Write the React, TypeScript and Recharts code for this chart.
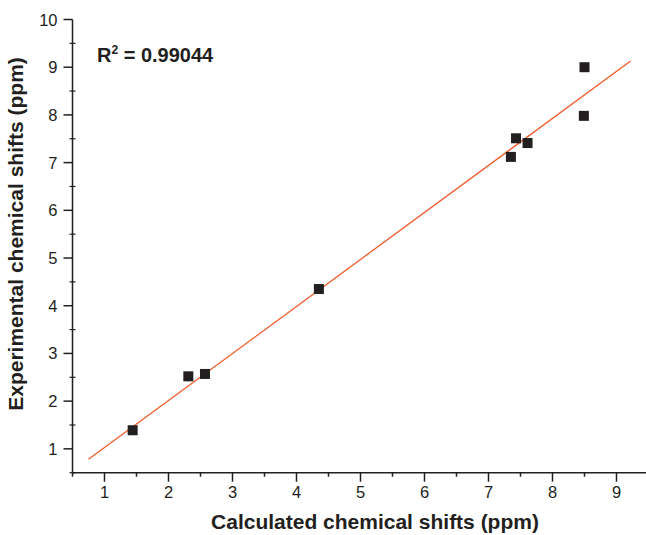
import React from 'react';
import { ScatterChart, Scatter, XAxis, YAxis } from 'recharts';

// calculated vs experimental shifts (ppm)
const calculated = [1.44, 2.31, 2.57, 4.35, 7.35, 7.43, 7.61, 8.49, 8.5];
const experimental = [1.39, 2.52, 2.57, 4.35, 7.12, 7.51, 7.41, 7.98, 9.0];

// linear fit end points
const fitX = [0.75, 9.22];
const fitY = [0.78, 9.13];

const xTicks = [0.5, 1, 1.5, 2, 2.5, 3, 3.5, 4, 4.5, 5, 5.5, 6, 6.5, 7, 7.5, 8, 8.5, 9, 9.5];
const yTicks = [0.5, 1, 1.5, 2, 2.5, 3, 3.5, 4, 4.5, 5, 5.5, 6, 6.5, 7, 7.5, 8, 8.5, 9, 9.5, 10];

const rSquared = '0.99044';
const xTitle = 'Calculated chemical shifts (ppm)';
const yTitle = 'Experimental chemical shifts (ppm)';

const INK = '#231f20';
const FIT = '#f15a29';
const FONT = '"Liberation Sans", Arial, Helvetica, sans-serif';

const points = calculated.map((x, i) => ({ x, y: experimental[i] }));
const fitLine = fitX.map((x, i) => ({ x, y: fitY[i] }));

const BottomTick = (props: any) => {
    const { x, y, payload } = props;
    const major = Number.isInteger(payload.value);
    return (
        <g>
            <line x1={x} x2={x} y1={y} y2={y + (major ? 9 : 4)} stroke={INK} strokeWidth={1.5} />
            {major && (
                <text x={x} y={y + 25} textAnchor="middle" fontSize={16.5} fontFamily={FONT} fill={INK}>
                    {payload.value}
                </text>
            )}
        </g>
    );
};

const TopTick = (props: any) => {
    const { x, y } = props;
    return <line x1={x} x2={x} y1={y} y2={y + 3} stroke={INK} strokeWidth={1.2} />;
};

const LeftTick = (props: any) => {
    const { x, y, payload } = props;
    const major = Number.isInteger(payload.value);
    if (!major) {
        return <line x1={x - 3} x2={x + 3} y1={y} y2={y} stroke={INK} strokeWidth={1.2} />;
    }
    return (
        <g>
            <line x1={x - 9} x2={x} y1={y} y2={y} stroke={INK} strokeWidth={1.5} />
            <text x={x - 15} y={y + 6} textAnchor="end" fontSize={16.5} fontFamily={FONT} fill={INK}>
                {payload.value}
            </text>
        </g>
    );
};

const Square = (props: any) => {
    const { cx, cy } = props;
    return <rect x={cx - 5} y={cy - 5} width={10} height={10} fill={INK} />;
};

export default function App() {
    return (
        <div style={{ position: 'absolute', left: 0, top: 0, width: 646, height: 535, overflow: 'hidden', background: '#fff' }}>
            <ScatterChart width={650} height={535} margin={{ top: 19.5, right: 1.5, bottom: 0, left: 0 }}>
                <XAxis
                    dataKey="x"
                    type="number"
                    domain={[0.5, 9.5]}
                    ticks={xTicks}
                    interval={0}
                    height={62.3}
                    tickSize={0}
                    tickMargin={0}
                    tickLine={false}
                    tick={<BottomTick />}
                    axisLine={{ stroke: INK, strokeWidth: 1.5 }}
                    allowDataOverflow
                />
                <XAxis
                    xAxisId="top"
                    orientation="top"
                    dataKey="x"
                    type="number"
                    domain={[0.5, 9.5]}
                    ticks={xTicks}
                    interval={0}
                    height={0}
                    tickSize={0}
                    tickMargin={0}
                    tickLine={false}
                    tick={<TopTick />}
                    axisLine={{ stroke: INK, strokeWidth: 1.5 }}
                    allowDataOverflow
                />
                <YAxis
                    dataKey="y"
                    type="number"
                    domain={[0.5, 10]}
                    ticks={yTicks}
                    interval={0}
                    width={72.5}
                    tickSize={0}
                    tickMargin={0}
                    tickLine={false}
                    tick={<LeftTick />}
                    axisLine={{ stroke: INK, strokeWidth: 1.5 }}
                    allowDataOverflow
                />
                <Scatter
                    data={fitLine}
                    line={{ stroke: FIT, strokeWidth: 1.3 }}
                    lineType="joint"
                    shape={() => <g />}
                    legendType="none"
                    isAnimationActive={false}
                />
                <Scatter data={points} shape={<Square />} isAnimationActive={false} />
            </ScatterChart>
            <svg
                width={646}
                height={535}
                style={{ position: 'absolute', left: 0, top: 0, pointerEvents: 'none' }}
                fontFamily={FONT}
                fill={INK}
                fontWeight="bold"
            >
                <text x={97} y={62} fontSize={20}>
                    <tspan>R</tspan>
                    <tspan dy={-8} fontSize={12}>2</tspan>
                    <tspan dy={8}> = {rSquared}</tspan>
                </text>
                <text x={375} y={529} fontSize={21} textAnchor="middle">
                    {xTitle}
                </text>
                <text x={23} y={234} fontSize={21} textAnchor="middle" transform="rotate(-90 23 234)">
                    {yTitle}
                </text>
            </svg>
        </div>
    );
}
